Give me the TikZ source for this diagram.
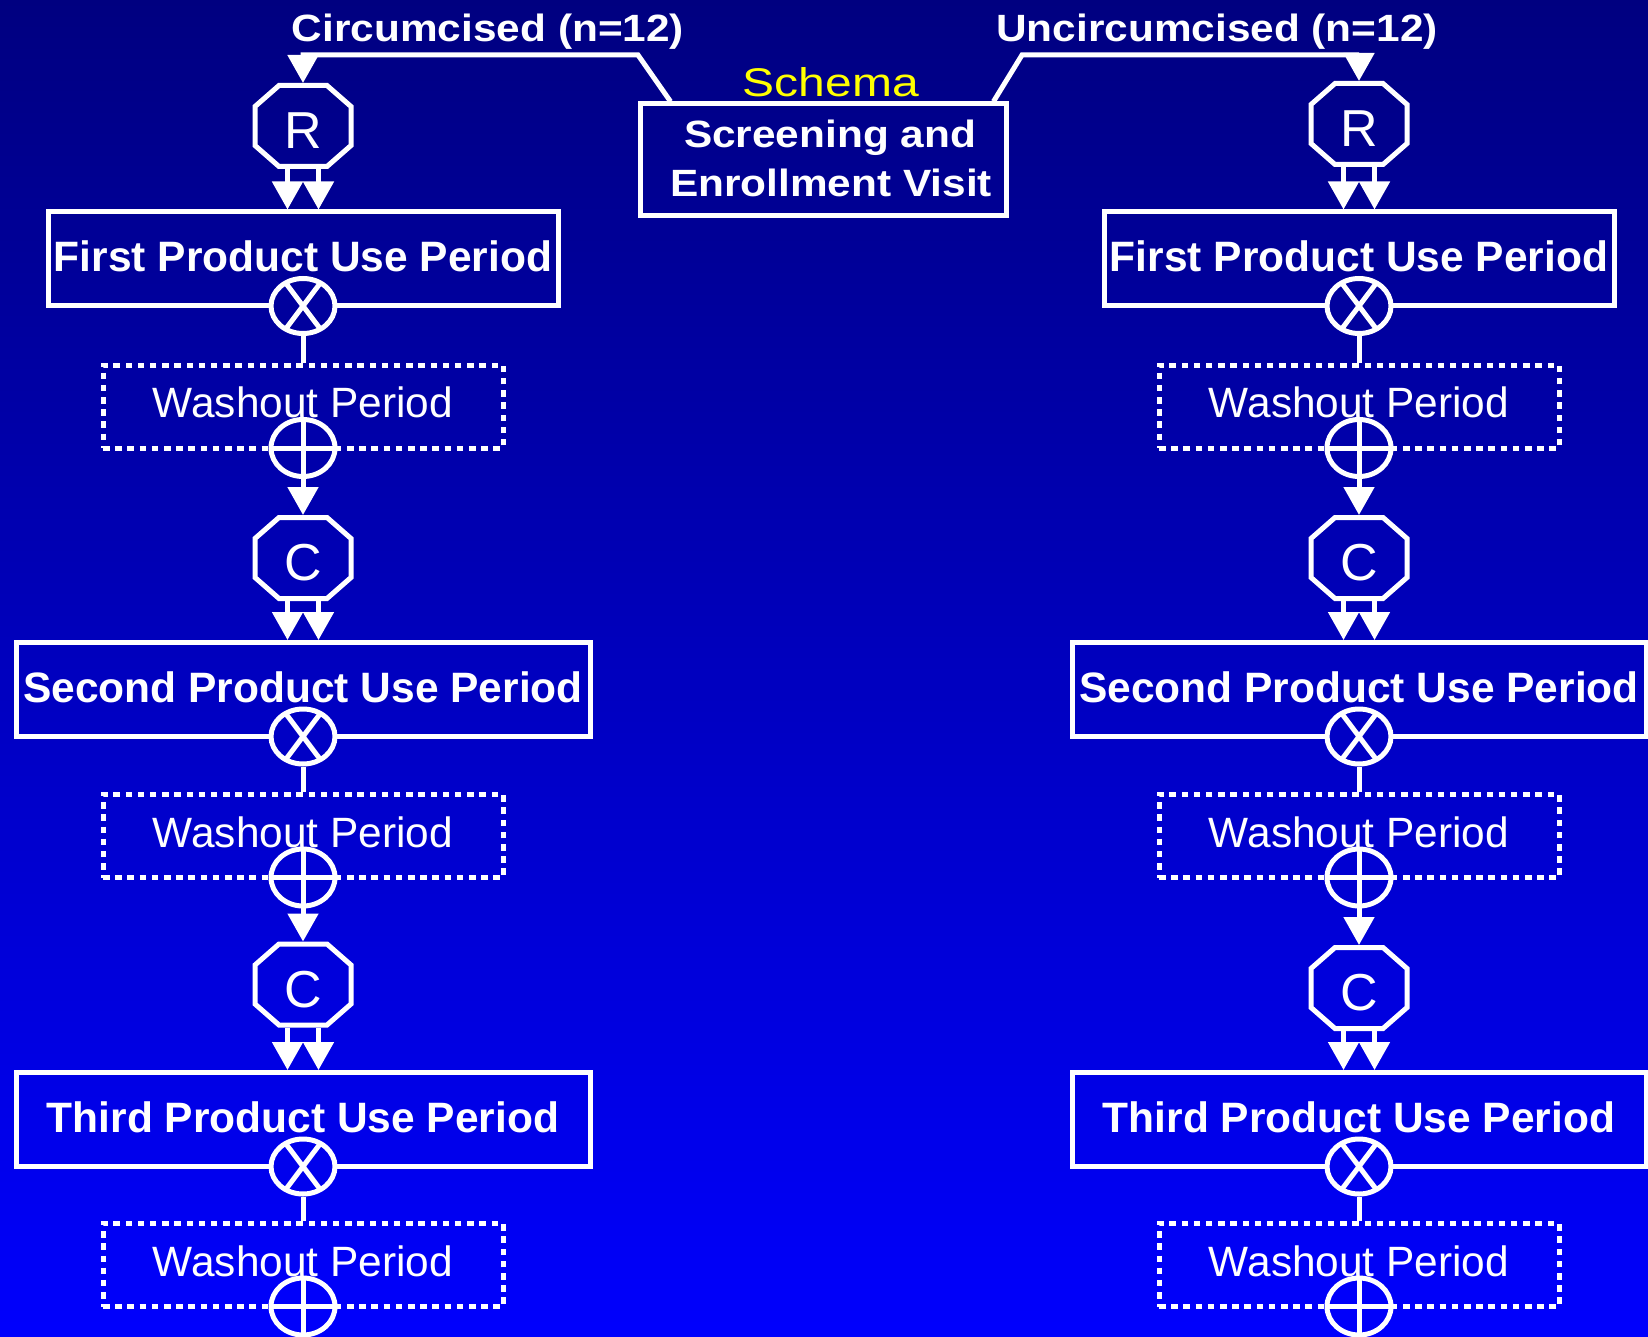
\documentclass[tikz,border=0pt]{standalone}
\usepackage{fontspec}
\setmainfont{Liberation Sans}
\usepackage{graphicx}
\usetikzlibrary{arrows.meta,shapes.geometric,calc}
\definecolor{bgtop}{RGB}{0,0,128}
\definecolor{bgbot}{RGB}{0,0,253}
\definecolor{schemayellow}{RGB}{255,255,0}
\newcommand{\wide}[1]{\scalebox{1.115}[1]{#1}}
\newcommand{\octline}[1]{\draw[lnk] (#1.center) ++(-24,-40.5) -- ++(48,0) -- ++(24,21) -- ++(0,39) -- ++(-24,21) -- ++(-48,0) -- ++(-24,-21) -- ++(0,-39) -- cycle;}
\newcommand{\diagcol}[5]{%
 \node[octo] (#1R) at (#2,#3) {R};
 \octline{#1R}
 \node[octo] (#1C1) at (#2,#4) {C};
 \octline{#1C1}
 \node[octo] (#1C2) at (#2,#5) {C};
 \octline{#1C2}
 \node[prod, minimum width=510pt] (#1B1) at (#2,259) {First Product Use Period};
 \node[prod, minimum width=574pt] (#1B2) at (#2,689.5) {Second Product Use Period};
 \node[prod, minimum width=574pt] (#1B3) at (#2,1119.5) {Third Product Use Period};
 \node[wash] (#1W1) at (#2,406.5) {Washout Period};
 \node[wash] (#1W2) at (#2,836) {Washout Period};
 \node[wash] (#1W3) at (#2,1265) {Washout Period};
 \node[xo, fill={rgb,255:red,0;green,0;blue,157}] (#1X1) at (#2,306) {};
 \node[xo, fill={rgb,255:red,0;green,0;blue,197}] (#1X2) at (#2,736.5) {};
 \node[xo, fill={rgb,255:red,0;green,0;blue,237}] (#1X3) at (#2,1166.5) {};
 \node[po, fill={rgb,255:red,0;green,0;blue,170}] (#1P1) at (#2,448) {};
 \node[po, fill={rgb,255:red,0;green,0;blue,210}] (#1P2) at (#2,877.5) {};
 \node[po, fill={rgb,255:red,0;green,0;blue,250}] (#1P3) at (#2,1306.5) {};
 \foreach \k in {1,2,3}{%
   \draw[lnk] (#1X\k.center) +(-17.4,-23.1) -- +(17.4,23.1) (#1X\k.center) +(17.4,-23.1) -- +(-17.4,23.1);
   \draw[lnk] (#1P\k.north) -- (#1P\k.south) (#1P\k.west) -- (#1P\k.east);
   \draw[lnk] (#1X\k.south) -- (#1W\k.north);
 }
 \draw[arr] ([xshift=-15.5pt]#1R.south) -- ([xshift=-15.5pt]#1R.south |- #1B1.north);
 \draw[arr] ([xshift=15.5pt]#1R.south) -- ([xshift=15.5pt]#1R.south |- #1B1.north);
 \draw[arr] (#1P1.south) -- (#1C1.north);
 \draw[arr] ([xshift=-15.5pt]#1C1.south) -- ([xshift=-15.5pt]#1C1.south |- #1B2.north);
 \draw[arr] ([xshift=15.5pt]#1C1.south) -- ([xshift=15.5pt]#1C1.south |- #1B2.north);
 \draw[arr] (#1P2.south) -- (#1C2.north);
 \draw[arr] ([xshift=-15.5pt]#1C2.south) -- ([xshift=-15.5pt]#1C2.south |- #1B3.north);
 \draw[arr] ([xshift=15.5pt]#1C2.south) -- ([xshift=15.5pt]#1C2.south |- #1B3.north);
}
\begin{document}
\begin{tikzpicture}[x=1pt, y=-1pt,
  lnk/.style={draw=white, line width=5pt},
  arr/.style={draw=white, line width=5pt, -{Triangle[width=30pt,length=28pt]}},
  octo/.style={minimum width=96pt, minimum height=81pt, inner sep=0pt, outer sep=2.5pt, text=white, font=\fontsize{52}{60}\selectfont, text height=45pt, text depth=0pt},
  prod/.style={draw=white, line width=5pt, minimum height=94pt, inner sep=0pt, text=white, font=\bfseries\fontsize{42.5}{50}\selectfont, text depth=5pt},
  wash/.style={draw=white, line width=5pt, dash pattern=on 6.5pt off 5.7pt, minimum width=400pt, minimum height=83pt, inner sep=0pt, text=white, font=\fontsize{42.4}{50}\selectfont, text depth=8pt},
  xo/.style={ellipse, draw=white, line width=5pt, minimum width=64pt, minimum height=55pt, inner sep=0pt},
  po/.style={ellipse, draw=white, line width=5pt, minimum width=64pt, minimum height=57pt, inner sep=0pt},
  toptxt/.style={text=white, font=\bfseries\fontsize{38}{46}\selectfont, inner sep=0pt, anchor=base}
]
\useasboundingbox (0,0) rectangle (1648,1337);
\shade[top color=bgtop, bottom color=bgbot] (0,0) rectangle (1648,1337);

\node[draw=white, line width=5pt, minimum width=366pt, minimum height=112pt] (scr) at (823,160) {};
\node[toptxt] (scr1) at (830,148) {\wide{Screening and}};
\node[toptxt] (scr2) at (831,197) {\wide{Enrollment Visit}};
\node[text=schemayellow, font=\fontsize{40}{48}\selectfont, inner sep=0pt, anchor=base] (schema) at (831,97) {\scalebox{1.2}[1]{Schema}};
\node[toptxt] (circ) at (488,42) {\wide{Circumcised (n=12)}};
\node[toptxt] (uncirc) at (1217,42) {\wide{Uncircumcised (n=12)}};

\diagcol{l}{303}{126}{558}{984.5}
\diagcol{r}{1359}{124}{558}{988}

\coordinate (lk1) at (638,55);
\coordinate (rk1) at (1022,55);
\draw[arr] ([xshift=33pt]scr.north west) -- (lk1) -| (lR.north);
\draw[arr] ([xshift=-15pt]scr.north east) -- (rk1) -| (rR.north);
\end{tikzpicture}
\end{document}
